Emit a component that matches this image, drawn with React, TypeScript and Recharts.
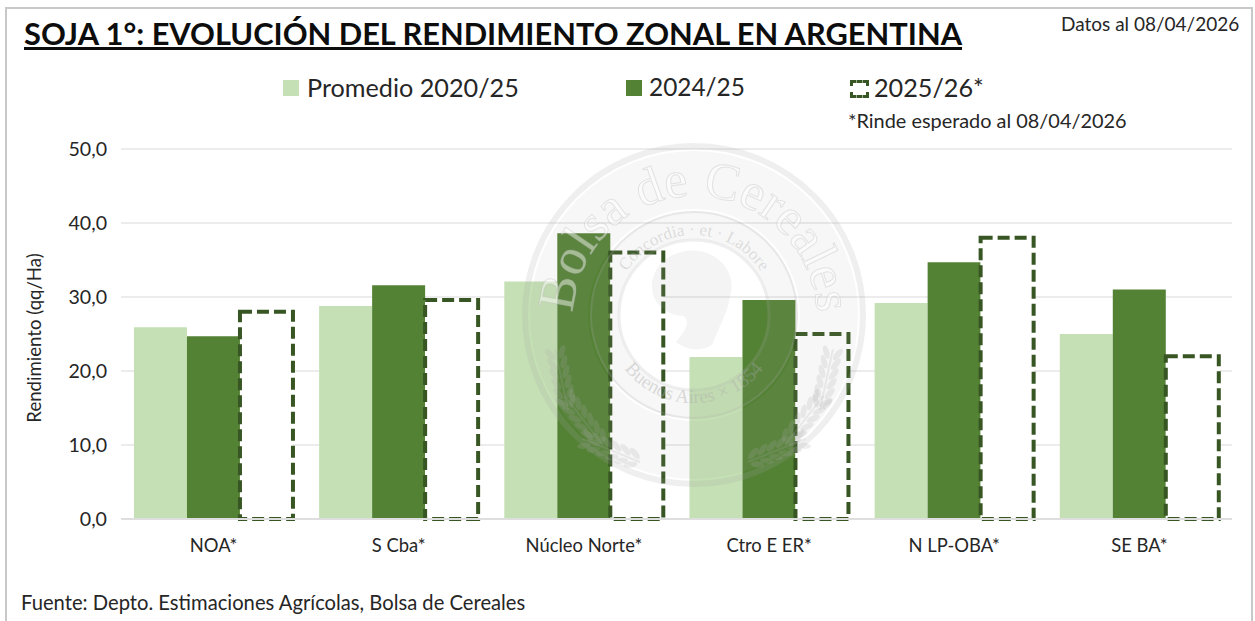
import { BarChart, Bar, XAxis, YAxis, CartesianGrid, Label, ReferenceLine } from "recharts";

const zonas = ["NOA*", "S Cba*", "Núcleo Norte*", "Ctro E ER*", "N LP-OBA*", "SE BA*"];
const promedio = [25.9, 28.8, 32.1, 21.9, 29.2, 25.0];
const campania2425 = [24.7, 31.6, 38.6, 29.6, 34.7, 31.0];
const campania2526 = [28.0, 29.6, 36.0, 25.0, 38.0, 22.0];
const yTicks = [0, 10, 20, 30, 40, 50];

const data = zonas.map((zona, i) => ({
  zona,
  promedio: promedio[i],
  c2425: campania2425[i],
  c2526: campania2526[i],
}));

const font = "Lato, 'Open Sans', sans-serif";
const textColor = "#262626";
const selloGris = "#a8a8a8";
const granos = [0, 1, 2, 3, 4, 5];

// una espiga del sello, dibujada hacia arriba desde el origen
function Espiga({ x, y, rot }: { x: number; y: number; rot: number }) {
  return (
    <g transform={`translate(${x} ${y}) rotate(${rot})`} fill={selloGris} fillOpacity={0.2}>
      <path d="M0 0 L0 -62" stroke={selloGris} strokeOpacity={0.2} strokeWidth={2} fill="none" />
      {granos.map((g) => (
        <g key={g}>
          <ellipse cx={-6} cy={-8 - g * 10} rx={3} ry={7} transform={`rotate(-28 -6 ${-8 - g * 10})`} />
          <ellipse cx={6} cy={-8 - g * 10} rx={3} ry={7} transform={`rotate(28 6 ${-8 - g * 10})`} />
        </g>
      ))}
    </g>
  );
}

// marca de agua de la Bolsa, va por encima de las barras
function Sello() {
  return (
    <svg width={1255} height={621} style={{ position: "absolute", left: 0, top: 0, pointerEvents: "none" }}>
      <defs>
        <path id="arcoExt" d="M 575 340 A 122 122 0 1 1 815 340" />
        <path id="arcoInt" d="M 614 315 A 80 80 0 1 1 774 315" />
        <path id="arcoBajo" d="M 606 315 A 88 88 0 0 0 782 315" />
      </defs>
      <g fill="none" stroke={selloGris}>
        <circle cx={694} cy={315} r={169} strokeWidth={6} strokeOpacity={0.18} />
        <circle cx={694} cy={315} r={135} strokeWidth={58} strokeOpacity={0.09} />
        <circle cx={694} cy={315} r={90} strokeWidth={28} strokeOpacity={0.09} />
        <circle cx={694} cy={315} r={103} strokeWidth={2} strokeOpacity={0.2} />
        <circle cx={694} cy={315} r={75} strokeWidth={3} strokeOpacity={0.2} />
      </g>
      <text fontFamily="'Liberation Serif', serif" fontSize={52} fill="#ffffff" fillOpacity={0.45} stroke={selloGris} strokeOpacity={0.28} strokeWidth={1}>
        <textPath href="#arcoExt" startOffset="50%" textAnchor="middle">Bolsa de Cereales</textPath>
      </text>
      <text fontFamily="'Liberation Serif', serif" fontSize={17} fill={selloGris} fillOpacity={0.35}>
        <textPath href="#arcoInt" startOffset="50%" textAnchor="middle">Concordia · et · Labore</textPath>
      </text>
      <text fontFamily="'Liberation Serif', serif" fontSize={19} fill={selloGris} fillOpacity={0.4}>
        <textPath href="#arcoBajo" startOffset="50%" textAnchor="middle">Buenos Aires × 1854</textPath>
      </text>
      <path
        d="M 652 282 C 656 258 682 246 704 252 C 724 258 736 276 730 296 C 728 308 724 318 720 326 L 712 345 C 700 352 686 350 676 342 C 686 330 690 322 684 316 C 668 316 650 304 652 282 Z"
        fill={selloGris}
        fillOpacity={0.12}
      />
      <Espiga x={603} y={445} rot={-38} />
      <Espiga x={568} y={410} rot={-12} />
      <Espiga x={640} y={462} rot={-68} />
      <Espiga x={785} y={445} rot={38} />
      <Espiga x={820} y={410} rot={12} />
      <Espiga x={748} y={462} rot={68} />
    </svg>
  );
}

function Leyenda() {
  const base: React.CSSProperties = { position: "absolute", fontSize: 25.2, color: textColor, top: 72, lineHeight: "30px", whiteSpace: "nowrap" };
  return (
    <>
      <div style={{ position: "absolute", left: 283, top: 80, width: 16, height: 16, background: "#c5e0b4" }} />
      <div style={{ ...base, left: 307 }}>Promedio 2020/25</div>
      <div style={{ position: "absolute", left: 626, top: 80, width: 16, height: 16, background: "#548235" }} />
      <div style={{ ...base, left: 649, fontSize: 24.4 }}>2024/25</div>
      <div style={{ position: "absolute", left: 850, top: 80, width: 13, height: 12, border: "3px dashed #375623" }} />
      <div style={{ ...base, left: 874 }}>2025/26*</div>
    </>
  );
}

export default function App() {
  return (
    <div style={{ position: "absolute", left: 0, top: 0, width: 1255, height: 621, background: "#fff", fontFamily: font, overflow: "hidden" }}>
      <div style={{ position: "absolute", left: 0, top: 0 }}>
        <BarChart
          width={1255}
          height={621}
          data={data}
          barGap={0}
          barCategoryGap="7%"
          margin={{ top: 149, right: 23, bottom: 0, left: 0 }}
        >
          <CartesianGrid vertical={false} stroke="#d9d9d9" strokeWidth={1} />
          <XAxis
            dataKey="zona"
            height={102}
            tickLine={false}
            axisLine={{ stroke: "#d9d9d9" }}
            tick={{ fontSize: 18.4, fill: textColor }}
            tickMargin={14}
            interval={0}
          />
          <YAxis
            width={121}
            domain={[0, 50]}
            ticks={yTicks}
            tickLine={false}
            axisLine={false}
            tick={{ fontSize: 19.6, fill: textColor }}
            tickMargin={8}
            tickFormatter={(v: number) => v.toFixed(1).replace(".", ",")}
          >
            <Label
              content={() => (
                <text transform="translate(41 338) rotate(-90)" textAnchor="middle" fontSize={18.6} fill={textColor}>
                  Rendimiento (qq/Ha)
                </text>
              )}
            />
          </YAxis>
          <Bar dataKey="promedio" fill="#c5e0b4" isAnimationActive={false} />
          <Bar dataKey="c2425" fill="#548235" isAnimationActive={false} />
          <Bar dataKey="c2526" fill="#ffffff" stroke="#375623" strokeWidth={4} strokeDasharray="12 5" isAnimationActive={false} />
          <ReferenceLine y={0} stroke="#e4e4e4" strokeWidth={2} />
        </BarChart>
      </div>
      <Sello />
      <Leyenda />
      <div style={{ position: "absolute", left: 5, top: 7, width: 1248, height: 640, border: "2px solid #c8c8c8", boxSizing: "border-box" }} />
      <div style={{ position: "absolute", left: 24, top: 12, fontSize: 30.8, fontWeight: 700, color: "#0d0d0d", textDecoration: "underline", whiteSpace: "nowrap", lineHeight: "44px" }}>
        SOJA 1°: EVOLUCIÓN DEL RENDIMIENTO ZONAL EN ARGENTINA
      </div>
      <div style={{ position: "absolute", left: 1061, top: 12, fontSize: 19, color: textColor, whiteSpace: "nowrap" }}>Datos al 08/04/2026</div>
      <div style={{ position: "absolute", left: 848, top: 108, fontSize: 19.9, color: textColor, whiteSpace: "nowrap" }}>*Rinde esperado al 08/04/2026</div>
      <div style={{ position: "absolute", left: 21, top: 590, fontSize: 20.2, color: textColor, whiteSpace: "nowrap" }}>Fuente: Depto. Estimaciones Agrícolas, Bolsa de Cereales</div>
    </div>
  );
}
